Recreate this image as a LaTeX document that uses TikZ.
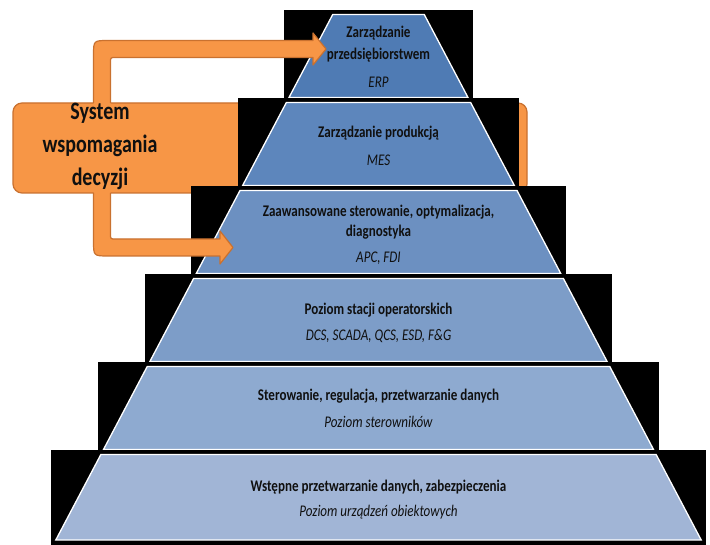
\documentclass[tikz,border=0pt]{standalone}
\usepackage{fontspec}
\setmainfont{Carlito}[FakeStretch=0.8]
\definecolor{orfill}{HTML}{F79646}
\definecolor{ordraw}{HTML}{C9712F}
\definecolor{lvA}{HTML}{4F7BB4}
\definecolor{lvB}{HTML}{5D86BC}
\definecolor{lvC}{HTML}{6C90C1}
\definecolor{lvD}{HTML}{7D9DC8}
\definecolor{lvE}{HTML}{8EAAD0}
\definecolor{lvF}{HTML}{A1B5D6}
\definecolor{txt}{HTML}{101010}
\begin{document}
\begin{tikzpicture}[x=1pt,y=-1pt,
  boxstyle/.style={fill=orfill,draw=ordraw,line width=1.2pt,rounded corners=9pt},
  arrfill/.style={fill=orfill},
  arrline/.style={draw=ordraw,line width=1.2pt,line join=round},
  title/.style={font=\bfseries\fontsize{16.3}{22}\selectfont,text=txt,align=center,inner sep=0pt},
  sub/.style={font=\itshape\fontsize{16.3}{22}\selectfont,text=txt,align=center,inner sep=0pt},
  bigtext/.style={font=\bfseries\fontsize{25}{33}\selectfont,text=txt,align=center,inner sep=0pt}]
\useasboundingbox (0,0) rectangle (710,545);
\fill[white] (0,0) rectangle (710,545);
% decision support box
\path[boxstyle] (13,103) rectangle (527,193);
% pyramid
\foreach \t/\b/\rb/\c in {10/97.5/98/lvA, 98/185.5/186/lvB, 186/273.5/274/lvC, 274/361.5/362/lvD, 362/449.5/450/lvE, 450/540/545/lvF}{
  \pgfmathsetmacro{\xlt}{333-0.527*(\t+4.5-14)}
  \pgfmathsetmacro{\xrt}{424+0.527*(\t+4.5-14)}
  \pgfmathsetmacro{\xlb}{333-0.527*(\b-14)}
  \pgfmathsetmacro{\xrb}{424+0.527*(\b-14)}
  \pgfmathsetmacro{\tt}{\t+4.5}
  \fill[black] (\xlb-5,\t) rectangle (\xrb+5,\rb);
  \filldraw[fill=\c,draw=white,line width=1.3pt] (\xlt,\tt) -- (\xrt,\tt) -- (\xrb,\b) -- (\xlb,\b) -- cycle;
}
% texts
\node[title] (t1) at (378.5,44) {Zarządzanie\\przedsiębiorstwem};
\node[sub] (s1) at (378.5,82) {ERP};
\node[title] (t2) at (378.5,133) {Zarządzanie produkcją};
\node[sub] (s2) at (378.5,160) {MES};
\node[title,font=\bfseries\fontsize{16.3}{20}\selectfont] (t3) at (378.5,222) {Zaawansowane sterowanie, optymalizacja,\\diagnostyka};
\node[sub] (s3) at (378.5,258) {APC, FDI};
\node[title] (t4) at (378.5,310) {Poziom stacji operatorskich};
\node[sub] (s4) at (378.5,336) {DCS, SCADA, QCS, ESD, F\&G};
\node[title] (t5) at (378.5,396) {Sterowanie, regulacja, przetwarzanie danych};
\node[sub] (s5) at (378.5,422) {Poziom sterowników};
\node[title] (t6) at (378.5,487) {Wstępne przetwarzanie danych, zabezpieczenia};
\node[sub] (s6) at (378.5,512) {Poziom urządzeń obiektowych};
% upper arrow
\path[arrfill] (93.5,106) -- (93.5,55.5) .. controls (93.5,40.5) .. (108.5,40.5) -- (313,40.5) -- (313,33) -- (326,49) -- (313,65) -- (313,57.5) -- (115.5,57.5) .. controls (110.5,57.5) .. (110.5,62.5) -- (110.5,106) -- cycle;
\path[arrline] (93.5,103) -- (93.5,55.5) .. controls (93.5,40.5) .. (108.5,40.5) -- (313,40.5) -- (313,33) -- (326,49) -- (313,65) -- (313,57.5) -- (115.5,57.5) .. controls (110.5,57.5) .. (110.5,62.5) -- (110.5,103);
% lower arrow
\path[arrfill] (93.5,190) -- (93.5,241) .. controls (93.5,256) .. (108.5,256) -- (220,256) -- (220,264) -- (233,247.5) -- (220,231) -- (220,239) -- (115.5,239) .. controls (110.5,239) .. (110.5,234) -- (110.5,190) -- cycle;
\path[arrline] (93.5,193) -- (93.5,241) .. controls (93.5,256) .. (108.5,256) -- (220,256) -- (220,264) -- (233,247.5) -- (220,231) -- (220,239) -- (115.5,239) .. controls (110.5,239) .. (110.5,234) -- (110.5,193);
% box text
\node[bigtext] (sys) at (100,146.5) {System\\wspomagania\\decyzji};
\end{tikzpicture}
\end{document}
